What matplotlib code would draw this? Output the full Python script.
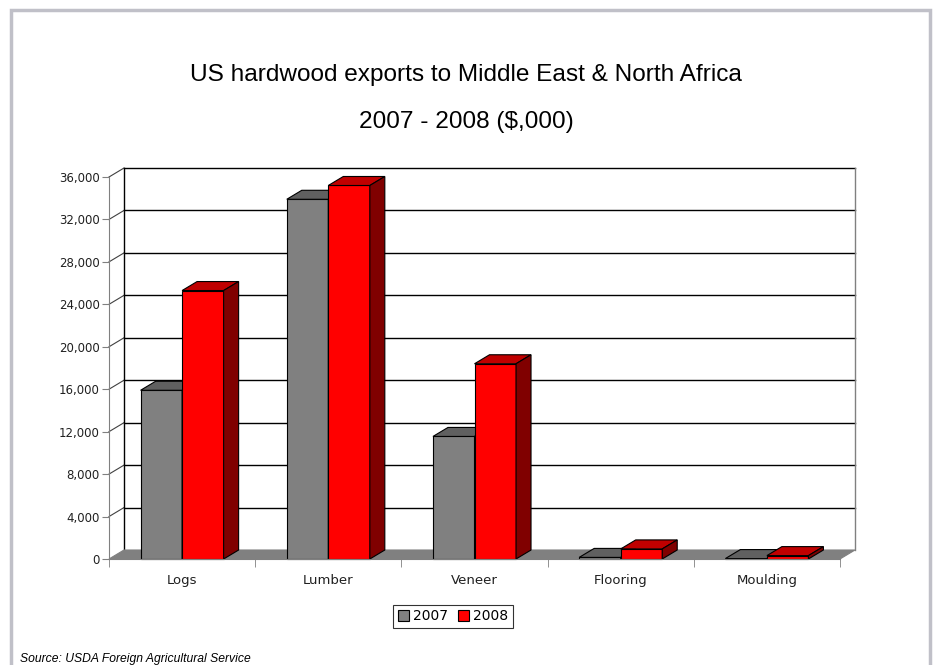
import numpy as np
import matplotlib.pyplot as plt
from matplotlib.patches import Polygon, Rectangle
from matplotlib.ticker import FuncFormatter

# 数据（单位：千美元）
categories = ['Logs', 'Lumber', 'Veneer', 'Flooring', 'Moulding']
years = ['2007', '2008']
values_2007 = [15900, 33900, 11550, 150, 40]
values_2008 = [25300, 35200, 18400, 950, 320]
y_ticks = list(range(0, 36001, 4000))

plt.rcParams['font.family'] = ['Liberation Sans', 'DejaVu Sans']
tick_font = 'DejaVu Sans'

W, H = 935, 665
fig = plt.figure(figsize=(W / 100, H / 100), dpi=100)

# 前平面: x 109..840 px, y 559(0)..177(36000) px
ax_l, ax_r, ax_b, ax_t = 109, 840, 559, 177
ax = fig.add_axes([ax_l / W, 1 - ax_b / H, (ax_r - ax_l) / W, (ax_b - ax_t) / H])
ymax = 36000
n = len(categories)
ax.set_xlim(0, n)
ax.set_ylim(0, ymax)
ax.patch.set_alpha(0)

# 三维深度偏移（数据单位）
dx = 15 / ((ax_r - ax_l) / n)
dy = 9 / (ax_b - ax_t) * ymax

# 背墙
ax.add_patch(Rectangle((dx, dy), n, ymax, facecolor='white', edgecolor='none',
                       zorder=0, clip_on=False))
for v in y_ticks[1:]:
    ax.plot([dx, n + dx], [v + dy, v + dy], color='black', lw=1, zorder=1, clip_on=False)
    ax.plot([0, dx], [v, v + dy], color='#404040', lw=0.8, zorder=1, clip_on=False)
ax.plot([dx, dx], [dy, ymax + dy], color='black', lw=1, zorder=1, clip_on=False)
ax.plot([n + dx, n + dx], [dy, ymax + dy], color='#808080', lw=1, zorder=1, clip_on=False)

# 地板
ax.add_patch(Polygon([(0, 0), (n, 0), (n + dx, dy), (dx, dy)], closed=True,
                     facecolor='#808080', edgecolor='#808080', lw=0.8, zorder=2, clip_on=False))

# 柱子
bw = 0.284
colors = {
    '2007': ('#808080', '#606060', '#404040'),
    '2008': ('#ff0000', '#c00000', '#800000'),
}


def draw_bar(x0, h, cols, z):
    front, top, side = cols
    ax.add_patch(Rectangle((x0, 0), bw, h, facecolor=front, edgecolor='black',
                           lw=0.8, zorder=z, clip_on=False))
    ax.add_patch(Polygon([(x0, h), (x0 + bw, h), (x0 + bw + dx, h + dy), (x0 + dx, h + dy)],
                         closed=True, facecolor=top, edgecolor='black', lw=0.8,
                         zorder=z, clip_on=False))
    ax.add_patch(Polygon([(x0 + bw, 0), (x0 + bw + dx, dy), (x0 + bw + dx, h + dy), (x0 + bw, h)],
                         closed=True, facecolor=side, edgecolor='black', lw=0.8,
                         zorder=z, clip_on=False))


for i in range(n):
    c = i + 0.5
    draw_bar(c - bw, values_2007[i], colors['2007'], 3 + i * 2)
    draw_bar(c, values_2008[i], colors['2008'], 4 + i * 2)

# 坐标轴
for s in ['top', 'right']:
    ax.spines[s].set_visible(False)
ax.spines['left'].set_color('#808080')
ax.spines['bottom'].set_color('#808080')
ax.spines['left'].set_zorder(20)
ax.spines['bottom'].set_zorder(20)

ax.set_yticks(y_ticks)
ax.yaxis.set_major_formatter(FuncFormatter(lambda v, p: f'{int(v):,}'))
ax.tick_params(axis='y', length=5, color='#808080', labelsize=8.5, pad=1.5,
               labelcolor='#202020')
for t in ax.get_yticklabels():
    t.set_family(tick_font)

ax.set_xticks(np.arange(n) + 0.5)
ax.set_xticklabels(categories, family=tick_font)
ax.set_xticks(np.arange(n + 1), minor=True)
ax.tick_params(axis='x', which='major', length=0, labelsize=9.5, pad=11,
               labelcolor='#202020')
ax.tick_params(axis='x', which='minor', length=6, color='#808080')

# 标题
fig.text(0.4985, 1 - 75 / H, 'US hardwood exports to Middle East & North Africa',
         ha='center', va='center', fontsize=17.6)
fig.text(0.4985, 1 - 122 / H, '2007 - 2008 ($,000)', ha='center', va='center', fontsize=17.6)

# 图例
handles = [Rectangle((0, 0), 1, 1, facecolor=colors[y][0], edgecolor='black', lw=0.8)
           for y in years]
leg = fig.legend(handles, years, loc='center', bbox_to_anchor=(453 / W, 1 - 616.5 / H),
                 ncol=2, frameon=True, fancybox=False,
                 prop={'family': tick_font, 'size': 10},
                 handlelength=0.8, handleheight=0.8, handletextpad=0.3,
                 columnspacing=0.7, borderpad=0.35, borderaxespad=0)
leg.get_frame().set_edgecolor('black')
leg.get_frame().set_linewidth(0.8)

# 来源
fig.text(20 / W, 1 - 659 / H, 'Source: USDA Foreign Agricultural Service',
         ha='left', va='center', fontsize=8.7, style='italic')

# 外框
fig.add_artist(Rectangle((11 / W, -0.05), (930 - 11) / W, 1.05 - 10 / H,
                         transform=fig.transFigure, facecolor='none',
                         edgecolor='#c0c0c8', lw=2.5))

fig.savefig('out.png', dpi=100)
